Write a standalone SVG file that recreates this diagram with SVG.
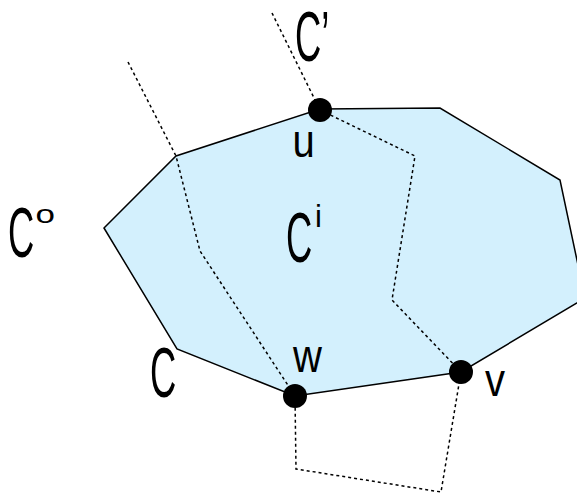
<svg xmlns="http://www.w3.org/2000/svg" width="577" height="494" viewBox="0 0 577 494">
<style>
.region{fill:#d3f0fd;stroke:#000;stroke-width:1.5;stroke-linejoin:miter}
.dot{fill:none;stroke:#000;stroke-width:1.5;stroke-dasharray:3 3}
.v{fill:#000}
.big{font-family:"Liberation Sans",Arial,sans-serif;font-size:70px;fill:#000}
.lbl{font-family:"Liberation Sans",Arial,sans-serif;font-size:46px;fill:#000}
.sup{font-family:"Liberation Sans",Arial,sans-serif;fill:#000}
</style>
<rect width="577" height="494" fill="#fff"/>
<g id="region-Ci">
<polygon class="region" points="104,228 176,156 320,109 440,108 560,180 585,298 461,372 295,396 177,349"/>
</g>
<g id="connectors">
<path class="dot" d="M272,13 L320,110 L415,156 L392,300 L461,372 L441,492 L296,469 L295,396"/>
<path class="dot" d="M128,62 L176,156 L200,251 L295,396"/>
</g>
<g id="node-u">
<circle class="v" cx="320" cy="110" r="12"/>
<text class="lbl" transform="translate(292.4,157) scale(0.87,1)">u</text>
</g>
<g id="node-w">
<circle class="v" cx="295" cy="396" r="12"/>
<text class="lbl" transform="translate(293,372) scale(0.87,1)">w</text>
</g>
<g id="node-v">
<circle class="v" cx="461" cy="372" r="12"/>
<text class="lbl" transform="translate(485,396) scale(0.87,1)">v</text>
</g>
<g id="label-Cprime">
<text class="big" transform="translate(295,61) scale(0.52,1)">C’</text>
</g>
<g id="label-Co">
<text class="big" transform="translate(8,257) scale(0.52,1)">C</text>
<text class="sup" font-size="25" transform="translate(35.5,223) scale(1.4,1)">o</text>
</g>
<g id="label-Ci">
<text class="big" transform="translate(286,262) scale(0.52,1)">C</text>
<text class="sup" font-size="31" x="315" y="227">i</text>
</g>
<g id="label-C">
<text class="big" transform="translate(150,397) scale(0.52,1)">C</text>
</g>
</svg>
